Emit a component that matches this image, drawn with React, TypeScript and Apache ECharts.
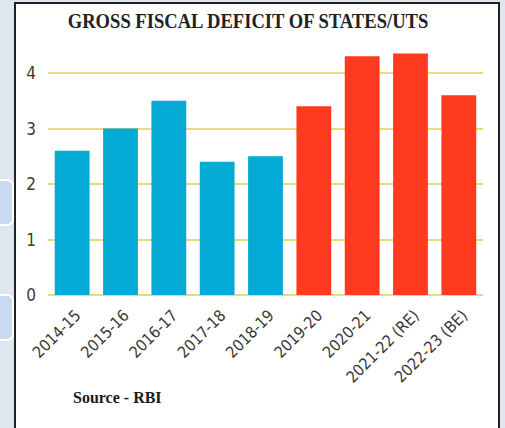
import React, { useEffect, useRef } from "react";
import * as echarts from "echarts";

const categories = ["2014-15", "2015-16", "2016-17", "2017-18", "2018-19", "2019-20", "2020-21", "2021-22 (RE)", "2022-23 (BE)"];
const values = [2.6, 3.0, 3.5, 2.4, 2.5, 3.4, 4.3, 4.35, 3.6];
const projected = [false, false, false, false, false, true, true, true, true];
const yTicks = [0, 1, 2, 3, 4];
const title = "GROSS FISCAL DEFICIT OF STATES/UTS";
const source = "Source - RBI";

const BLUE = "#03aad5";
const RED = "#fe3a1f";
const NARROW = "'DejaVu Sans Condensed', 'Liberation Sans Narrow', sans-serif";
const SERIF = "'Liberation Serif', 'DejaVu Serif', serif";

export default function App() {
  const ref = useRef<HTMLDivElement>(null);
  useEffect(() => {
    if (!ref.current) return;
    const chart = echarts.init(ref.current, undefined, { renderer: "svg" });
    chart.setOption({
      animation: false,
      backgroundColor: "#dde6f1",
      graphic: [
        { type: "rect", z: -10, shape: { x: 15, y: 3, width: 484, height: 440 }, style: { fill: "#ffffff", stroke: "#222222", lineWidth: 2 } },
        { type: "rect", z: -5, shape: { x: -12, y: 180, width: 25, height: 45, r: 6 }, style: { fill: "#c9d9ee", stroke: "#ffffff", lineWidth: 2 } },
        { type: "rect", z: -5, shape: { x: -12, y: 295, width: 25, height: 45, r: 6 }, style: { fill: "#c9d9ee", stroke: "#ffffff", lineWidth: 2 } },
        { type: "text", x: 248, y: 31, scaleX: 0.885, style: { text: title, font: `bold 21px ${SERIF}`, fill: "#222222", textAlign: "center", textVerticalAlign: "bottom" } },
        { type: "text", x: 73, y: 405, style: { text: source, font: `bold 16px ${SERIF}`, fill: "#1a1a1a", textAlign: "left", textVerticalAlign: "bottom" } },
      ],
      grid: { left: 48, right: 22, top: 73, bottom: 133, containLabel: false },
      xAxis: {
        type: "category",
        data: categories,
        axisLine: { show: false },
        axisTick: { show: false },
        axisLabel: { rotate: 45, interval: 0, margin: 12, verticalAlign: "top", color: "#3a3a3a", fontFamily: NARROW, fontSize: 16 },
      },
      yAxis: {
        type: "value",
        min: 0,
        max: 4,
        interval: 1,
        axisLine: { show: false },
        axisTick: { show: false },
        axisLabel: { margin: 12, color: "#3a3a3a", fontFamily: NARROW, fontSize: 17, formatter: (v: number) => (yTicks.includes(v) ? String(v) : "") },
        splitLine: { lineStyle: { color: "#ecd97e", width: 2 } },
      },
      series: [
        {
          type: "bar",
          clip: false,
          barWidth: "72%",
          data: values.map((v, i) => ({ value: v, itemStyle: { color: projected[i] ? RED : BLUE } })),
        },
      ],
    });
    return () => chart.dispose();
  }, []);
  return <div ref={ref} style={{ position: "fixed", left: 0, top: 0, width: 505, height: 428 }} />;
}
